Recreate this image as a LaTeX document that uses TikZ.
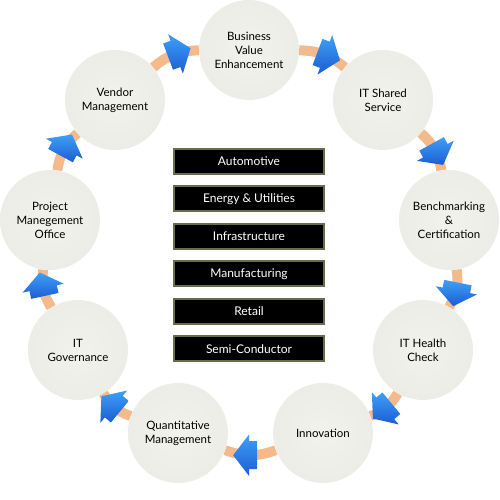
\documentclass[tikz,border=0pt]{standalone}
\usepackage{fontspec}
\setmainfont{Lato}
\usetikzlibrary{positioning,shapes.arrows,backgrounds}
\definecolor{ringpeach}{HTML}{F5BA8C}
\definecolor{arrowdark}{HTML}{1B5CD4}
\definecolor{arrowlight}{HTML}{3FA0F6}
\definecolor{boxedge}{HTML}{6A6A4C}
\definecolor{ballmid}{HTML}{F2F2EC}
\definecolor{ballring}{HTML}{EBEBE5}
\definecolor{balledge}{HTML}{C2C2BA}
\pgfdeclareradialshading{ballshade}{\pgfpoint{0bp}{0bp}}{color(0bp)=(ballmid); color(34bp)=(ballring); color(50bp)=(balledge)}

\begin{document}
\begin{tikzpicture}[x=1pt,y=1pt]
	\tikzstyle{every node}+=[inner sep=0pt]
	\tikzstyle{ball}=[circle,minimum size=100pt,shading=ballshade,align=center,font=\fontsize{11.5}{14}\selectfont]
	\tikzstyle{sector}=[rectangle,draw=boxedge,line width=2pt,fill=black,text=white,minimum width=150pt,minimum height=25pt,font=\fontsize{12}{14}\selectfont]
	\tikzstyle{ring}=[draw=ringpeach,line width=10pt,bend left=20]
	\tikzstyle{flow}=[single arrow,single arrow head extend=7pt,single arrow tip angle=105,inner ysep=9pt,inner xsep=0pt,minimum height=24pt,top color=arrowlight,bottom color=arrowdark,sloped,allow upside down,midway]
	\useasboundingbox (0,0) rectangle (500,500);
	\node (bve) at (249,450) [ball] {Business\\Value\\Enhancement};
	\node (its) at (383,400) [ball] {IT Shared\\Service};
	\node (bench) at (449,280) [ball] {Benchmarking\\\&\\Certification};
	\node (health) at (423,150) [ball] {IT Health\\Check};
	\node (innov) at (323,67) [ball] {Innovation};
	\node (quant) at (178,67) [ball] {Quantitative\\Management};
	\node (gov) at (78,150) [ball] {IT\\Governance};
	\node (pmo) at (50,280) [ball] {Project\\Manegement\\Office};
	\node (vendor) at (115,400) [ball] {Vendor\\Management};
	\begin{scope}[on background layer]
	\draw [ring] (bve) to node [flow] {} (its);
	\draw [ring] (its) to node [flow] {} (bench);
	\draw [ring] (bench) to node [flow] {} (health);
	\draw [ring] (health) to node [flow] {} (innov);
	\draw [ring] (innov) to node [flow] {} (quant);
	\draw [ring] (quant) to node [flow] {} (gov);
	\draw [ring] (gov) to node [flow] {} (pmo);
	\draw [ring] (pmo) to node [flow] {} (vendor);
	\draw [ring] (vendor) to node [flow] {} (bve);
	\end{scope}
	\node (auto) at (249,338.5) [sector] {Automotive};
	\node (energy) [sector,below=10.5pt of auto] {Energy \& Utilities};
	\node (infra) [sector,below=10.5pt of energy] {Infrastructure};
	\node (manuf) [sector,below=10.5pt of infra] {Manufacturing};
	\node (retail) [sector,below=10.5pt of manuf] {Retail};
	\node (semi) [sector,below=10.5pt of retail] {Semi-Conductor};
\end{tikzpicture}
\end{document}
